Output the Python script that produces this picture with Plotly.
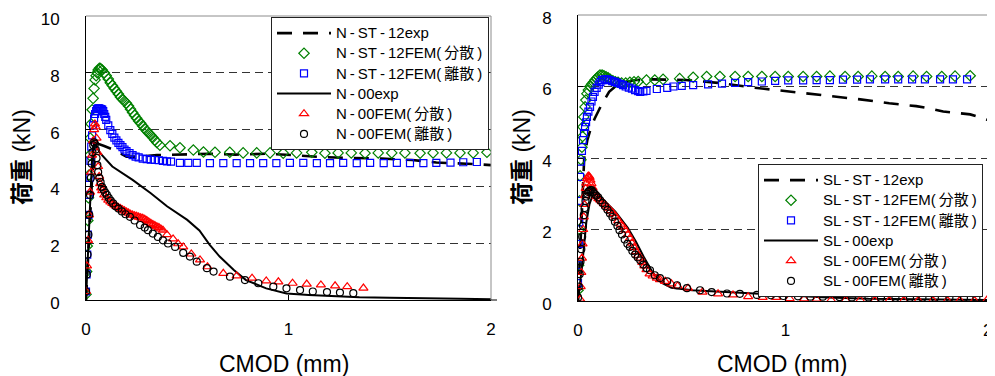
import plotly.graph_objects as go

# ---------------- Left chart (N series) ----------------
nst_exp_x = [0, 0.01, 0.02, 0.03, 0.045, 0.06, 0.09, 0.14, 0.2, 0.26, 0.35, 0.47, 0.61, 0.74, 0.89, 1.02, 1.17, 1.32, 1.46, 1.61, 1.73, 1.88, 2.0]
nst_exp_y = [0, 1.5, 3.0, 4.3, 5.3, 5.5, 5.42, 5.28, 5.05, 5.05, 5.1, 5.13, 5.15, 5.12, 5.15, 5.1, 5.03, 5.0, 4.98, 4.93, 4.84, 4.8, 4.75]

nst_femd_x = [0, 0.003, 0.006, 0.009, 0.012, 0.015, 0.018, 0.021, 0.025, 0.03, 0.035, 0.04, 0.045, 0.05, 0.055, 0.06, 0.066, 0.072,
              0.08, 0.09, 0.1, 0.11, 0.12, 0.13, 0.14, 0.15, 0.16, 0.17, 0.18, 0.19, 0.2, 0.21, 0.22, 0.23, 0.24, 0.25, 0.26, 0.27,
              0.28, 0.29, 0.3, 0.31, 0.32, 0.33, 0.34, 0.35, 0.365, 0.415, 0.464, 0.53, 0.58, 0.637, 0.71, 0.776, 0.843, 0.909,
              0.974, 1.04, 1.115, 1.18, 1.245, 1.31, 1.378, 1.443, 1.51, 1.575, 1.65, 1.714, 1.78, 1.847, 1.912, 1.98]
nst_femd_y = [0.2, 1.0, 1.9, 2.8, 3.6, 4.4, 5.1, 5.7, 6.2, 6.7, 7.1, 7.45, 7.75, 7.9, 8.0, 8.1, 8.16, 8.15,
              8.1, 8.0, 7.9, 7.78, 7.65, 7.55, 7.45, 7.35, 7.25, 7.15, 7.07, 7.0, 6.93, 6.83, 6.72, 6.6, 6.5, 6.4, 6.3, 6.22,
              6.13, 6.03, 5.95, 5.87, 5.8, 5.72, 5.63, 5.55, 5.45, 5.43, 5.36, 5.28, 5.21, 5.2, 5.2, 5.18, 5.18, 5.18,
              5.17, 5.18, 5.2, 5.17, 5.18, 5.18, 5.17, 5.18, 5.18, 5.18, 5.17, 5.18, 5.18, 5.18, 5.18, 5.2]

nst_fems_x = [0, 0.003, 0.006, 0.009, 0.012, 0.015, 0.018, 0.022, 0.026, 0.03, 0.035, 0.04, 0.045, 0.05, 0.055, 0.06, 0.065, 0.07,
              0.075, 0.08, 0.085, 0.09, 0.095, 0.1, 0.11, 0.12, 0.13, 0.14, 0.15, 0.16, 0.17, 0.18, 0.19, 0.2, 0.215, 0.23, 0.245,
              0.26, 0.28, 0.3, 0.32, 0.34, 0.36, 0.38, 0.4, 0.42, 0.464, 0.505, 0.547, 0.612, 0.678, 0.744, 0.81, 0.875, 0.94,
              1.007, 1.073, 1.14, 1.205, 1.27, 1.337, 1.403, 1.47, 1.535, 1.6, 1.666, 1.73, 1.8, 1.863, 1.93]
nst_fems_y = [0.3, 0.9, 1.6, 2.3, 3.0, 3.7, 4.3, 4.9, 5.4, 5.8, 6.15, 6.4, 6.55, 6.65, 6.72, 6.75, 6.75, 6.73,
              6.72, 6.7, 6.65, 6.55, 6.45, 6.34, 6.15, 5.98, 5.85, 5.72, 5.62, 5.53, 5.45, 5.38, 5.3, 5.24, 5.17, 5.1, 5.05,
              5.02, 4.98, 4.96, 4.94, 4.93, 4.92, 4.9, 4.88, 4.87, 4.83, 4.83, 4.83, 4.82, 4.82, 4.82, 4.82, 4.82, 4.82,
              4.83, 4.83, 4.82, 4.82, 4.83, 4.82, 4.83, 4.82, 4.83, 4.82, 4.82, 4.83, 4.84, 4.85, 4.86]

n00_exp_x = [0, 0.01, 0.02, 0.03, 0.04, 0.07, 0.13, 0.23, 0.32, 0.4, 0.5, 0.56, 0.61, 0.66, 0.73, 0.79, 0.89, 0.99, 1.1, 1.22, 1.35, 1.5, 1.68, 1.85, 2.0]
n00_exp_y = [0, 1.8, 3.6, 5.0, 5.55, 5.17, 4.7, 4.23, 3.76, 3.3, 2.82, 2.45, 1.95, 1.53, 1.06, 0.7, 0.41, 0.23, 0.18, 0.14, 0.1, 0.08, 0.05, 0.04, 0.03]

n00_femd_x = [0, 0.005, 0.01, 0.015, 0.02, 0.025, 0.03, 0.035, 0.04, 0.044, 0.048, 0.052, 0.056, 0.06, 0.065, 0.07, 0.075, 0.08,
              0.09, 0.1, 0.11, 0.12, 0.13, 0.14, 0.15, 0.16, 0.17, 0.18, 0.19, 0.2, 0.21, 0.22, 0.23, 0.24, 0.25, 0.26, 0.27,
              0.28, 0.29, 0.3, 0.31, 0.32, 0.33, 0.34, 0.35, 0.36, 0.37, 0.38, 0.4, 0.43, 0.455, 0.48, 0.52, 0.563, 0.6, 0.678,
              0.744, 0.82, 0.89, 0.95, 1.02, 1.09, 1.16, 1.23, 1.29, 1.37]
n00_femd_y = [0.3, 1.2, 2.1, 3.0, 3.8, 4.5, 5.1, 5.6, 6.0, 6.2, 6.1, 5.7, 5.2, 4.7, 4.35, 4.1, 3.95, 3.85,
              3.7, 3.6, 3.52, 3.45, 3.4, 3.35, 3.3, 3.26, 3.22, 3.18, 3.14, 3.1, 3.06, 3.02, 2.99, 2.97, 2.95, 2.92, 2.9,
              2.88, 2.84, 2.8, 2.75, 2.7, 2.66, 2.62, 2.58, 2.55, 2.5, 2.46, 2.3, 2.15, 1.98, 1.87, 1.62, 1.41, 1.17, 0.94,
              0.85, 0.77, 0.67, 0.64, 0.59, 0.56, 0.53, 0.5, 0.47, 0.42]

n00_fems_x = [0, 0.004, 0.008, 0.012, 0.016, 0.02, 0.024, 0.028, 0.032, 0.036, 0.04, 0.044, 0.048, 0.052, 0.056, 0.06, 0.066,
              0.072, 0.079, 0.087, 0.095, 0.103, 0.112, 0.122, 0.134, 0.146, 0.16, 0.177, 0.195, 0.217, 0.24, 0.267, 0.29,
              0.306, 0.33, 0.355, 0.38, 0.405, 0.44, 0.48, 0.513, 0.547, 0.597, 0.63, 0.711, 0.785, 0.851, 0.925, 0.99,
              1.057, 1.12, 1.19, 1.254, 1.32]
n00_fems_y = [0.3, 0.9, 1.6, 2.3, 3.0, 3.7, 4.3, 4.8, 5.2, 5.45, 5.55, 5.5, 5.3, 5.0, 4.75, 4.5, 4.3,
              4.15, 3.98, 3.88, 3.78, 3.7, 3.6, 3.5, 3.4, 3.3, 3.22, 3.12, 3.02, 2.93, 2.8, 2.64, 2.55,
              2.46, 2.34, 2.22, 2.1, 1.99, 1.87, 1.66, 1.53, 1.35, 1.12, 1.0, 0.82, 0.7, 0.59, 0.47, 0.41,
              0.35, 0.3, 0.28, 0.26, 0.24]

# ---------------- Right chart (SL series) ----------------
slst_exp_x = [0, 0.01, 0.02, 0.03, 0.045, 0.06, 0.08, 0.11, 0.15, 0.2, 0.28, 0.36, 0.52, 0.68, 0.83, 0.96, 1.085, 1.23, 1.36, 1.5, 1.63, 1.7, 1.76, 1.89, 1.95, 2.0]
slst_exp_y = [0, 1.5, 3.0, 4.0, 4.5, 4.8, 5.1, 5.45, 5.85, 6.1, 6.18, 6.2, 6.18, 6.1, 5.98, 5.9, 5.83, 5.72, 5.64, 5.53, 5.45, 5.38, 5.3, 5.22, 5.12, 5.02]

slst_femd_x = [0, 0.003, 0.006, 0.008, 0.01, 0.014, 0.019, 0.022, 0.024, 0.028, 0.034, 0.038, 0.043, 0.05, 0.058, 0.066, 0.074,
               0.082, 0.09, 0.098, 0.106, 0.116, 0.125, 0.135, 0.145, 0.155, 0.168, 0.18, 0.193, 0.21, 0.23, 0.25, 0.27, 0.29,
               0.33, 0.37, 0.41, 0.49, 0.555, 0.62, 0.684, 0.757, 0.82, 0.886, 0.95, 1.013, 1.085, 1.15, 1.214, 1.287, 1.35,
               1.416, 1.48, 1.543, 1.615, 1.68, 1.753, 1.817, 1.89]
slst_femd_y = [0.3, 1.0, 2.0, 2.8, 3.5, 3.95, 4.3, 4.6, 4.87, 5.15, 5.43, 5.62, 5.8, 5.9, 6.0, 6.06, 6.12,
               6.18, 6.23, 6.28, 6.32, 6.32, 6.3, 6.27, 6.24, 6.2, 6.16, 6.13, 6.12, 6.1, 6.1, 6.12, 6.13, 6.14,
               6.18, 6.18, 6.2, 6.22, 6.26, 6.28, 6.28, 6.28, 6.28, 6.28, 6.28, 6.28, 6.28, 6.28, 6.29, 6.28, 6.28,
               6.29, 6.28, 6.28, 6.29, 6.28, 6.28, 6.29, 6.3]

slst_fems_x = [0, 0.002, 0.004, 0.006, 0.008, 0.01, 0.014, 0.019, 0.024, 0.029, 0.034, 0.039, 0.043, 0.05, 0.058, 0.065, 0.072,
               0.08, 0.09, 0.1, 0.108, 0.116, 0.128, 0.14, 0.152, 0.165, 0.178, 0.19, 0.205, 0.217, 0.23, 0.245, 0.26, 0.275,
               0.29, 0.3, 0.315, 0.33, 0.38, 0.43, 0.46, 0.5, 0.555, 0.627, 0.694, 0.757, 0.82, 0.886, 0.95, 1.013, 1.085,
               1.15, 1.214, 1.277, 1.345, 1.407, 1.48, 1.543, 1.61, 1.672, 1.745, 1.807, 1.875]
slst_fems_y = [0.5, 1.0, 1.6, 2.2, 2.8, 3.47, 3.9, 4.2, 4.5, 4.7, 4.87, 5.0, 5.15, 5.3, 5.43, 5.58, 5.71,
               5.85, 5.96, 6.05, 6.12, 6.18, 6.2, 6.2, 6.18, 6.15, 6.13, 6.1, 6.07, 6.04, 6.0, 5.97, 5.94, 5.9,
               5.87, 5.85, 5.86, 5.88, 5.93, 5.96, 6.0, 6.02, 6.04, 6.06, 6.08, 6.1, 6.12, 6.14, 6.16, 6.17, 6.17,
               6.18, 6.18, 6.19, 6.19, 6.2, 6.2, 6.2, 6.2, 6.2, 6.2, 6.2, 6.2]

sl00_exp_x = [0, 0.02, 0.04, 0.055, 0.07, 0.09, 0.12, 0.18, 0.24, 0.28, 0.32, 0.36, 0.4, 0.45, 0.55, 0.7, 0.85, 1.0, 1.2, 1.4, 1.7, 2.0]
sl00_exp_y = [0, 1.0, 2.2, 2.7, 2.95, 3.0, 2.85, 2.5, 2.05, 1.65, 1.2, 0.8, 0.52, 0.37, 0.3, 0.25, 0.2, 0.15, 0.1, 0.06, 0.04, 0.03]

sl00_femd_x = [0.01, 0.013, 0.016, 0.019, 0.022, 0.025, 0.028, 0.031, 0.034, 0.037, 0.04, 0.044, 0.048, 0.052, 0.056, 0.06,
               0.065, 0.07, 0.076, 0.082, 0.09, 0.098, 0.106, 0.115, 0.125, 0.135, 0.145, 0.157, 0.17, 0.182, 0.194, 0.206,
               0.217, 0.228, 0.24, 0.25, 0.26, 0.27, 0.28, 0.29, 0.3, 0.31, 0.32, 0.33, 0.345, 0.36, 0.38, 0.395, 0.42, 0.45,
               0.48, 0.53, 0.6, 0.675, 0.747, 0.82, 0.89, 0.955, 1.02, 1.09, 1.15, 1.22, 1.29, 1.36, 1.43, 1.5, 1.57, 1.64,
               1.71, 1.78, 1.84, 1.91, 1.97]
sl00_femd_y = [0.05, 0.4, 0.8, 1.2, 1.6, 2.0, 2.35, 2.7, 2.95, 3.15, 3.3, 3.42, 3.48, 3.5, 3.46, 3.38,
               3.28, 3.17, 3.08, 3.0, 2.92, 2.86, 2.83, 2.78, 2.72, 2.66, 2.6, 2.53, 2.45, 2.36, 2.25, 2.15,
               2.08, 1.98, 1.86, 1.75, 1.62, 1.5, 1.38, 1.28, 1.2, 1.08, 0.98, 0.88, 0.76, 0.7, 0.64, 0.6, 0.55, 0.48,
               0.42, 0.36, 0.25, 0.2, 0.17, 0.12, 0.1, 0.1, 0.07, 0.06, 0.05, 0.03, 0.03, 0.03, 0.02, 0.02, 0.02, 0.02,
               0.02, 0.02, 0.02, 0.02, 0.02]

sl00_fems_x = [0, 0.004, 0.008, 0.012, 0.016, 0.02, 0.024, 0.028, 0.032, 0.036, 0.04, 0.045, 0.05, 0.055, 0.06, 0.065, 0.072,
               0.08, 0.088, 0.097, 0.106, 0.118, 0.13, 0.142, 0.154, 0.166, 0.178, 0.19, 0.2, 0.212, 0.225, 0.238, 0.25,
               0.262, 0.275, 0.288, 0.3, 0.315, 0.33, 0.347, 0.37, 0.395, 0.43, 0.477, 0.525, 0.588, 0.644, 0.718, 0.78,
               0.862, 0.93, 0.99, 1.06, 1.12, 1.18, 1.26, 1.32, 1.4, 1.46, 1.53, 1.6, 1.66, 1.72, 1.79, 1.86, 1.92]
sl00_fems_y = [0.1, 0.4, 0.75, 1.1, 1.45, 1.8, 2.1, 2.4, 2.6, 2.8, 2.92, 3.0, 3.05, 3.08, 3.1, 3.1, 3.05,
               3.0, 2.95, 2.9, 2.82, 2.74, 2.65, 2.55, 2.45, 2.35, 2.22, 2.1, 1.98, 1.86, 1.72, 1.6, 1.51,
               1.4, 1.3, 1.22, 1.14, 1.02, 0.92, 0.86, 0.72, 0.64, 0.55, 0.44, 0.36, 0.3, 0.25, 0.21, 0.2,
               0.17, 0.16, 0.14, 0.13, 0.12, 0.12, 0.11, 0.1, 0.1, 0.09, 0.09, 0.09, 0.09, 0.09, 0.09, 0.09, 0.09]

TS = "\u2009"  # thin space, mimics the wide letter spacing around hyphens
left_labels = [f"N{TS}-{TS}ST{TS}-{TS}12exp", f"N{TS}-{TS}ST{TS}-{TS}12FEM({TS}分散{TS})", f"N{TS}-{TS}ST{TS}-{TS}12FEM({TS}離散{TS})",
               f"N{TS}-{TS}00exp", f"N{TS}-{TS}00FEM({TS}分散{TS})", f"N{TS}-{TS}00FEM({TS}離散{TS})"]
right_labels = [f"SL{TS}-{TS}ST{TS}-{TS}12exp", f"SL{TS}-{TS}ST{TS}-{TS}12FEM({TS}分散{TS})", f"SL{TS}-{TS}ST{TS}-{TS}12FEM({TS}離散{TS})",
                f"SL{TS}-{TS}00exp", f"SL{TS}-{TS}00FEM({TS}分散{TS})", f"SL{TS}-{TS}00FEM({TS}離散{TS})"]

y_ticks_left = [0, 2, 4, 6, 8, 10]
y_ticks_right = [0, 2, 4, 6, 8]
x_ticks = [0, 1, 2]
x_ticktext_right = ["0", "1", ""]   # the "2" is placed as a right-aligned label (it sits at the figure edge)

FONT = "Liberation Sans, Arial, Noto Sans CJK JP, sans-serif"
GREEN, BLUE, RED, BLACK = "#008000", "#0000FF", "#FF0000", "#000000"


def lab(t):
    # legend text drawn at 15px while the legend rows keep a compact pitch
    return f"<span style='font-size:15px'>{t}</span>"


fig = go.Figure()


def add_set(xs_ys, names, xa, ya, legend):
    (ex, ey), (gx, gy), (bx, by), (sx, sy), (rx, ry), (cx, cy) = xs_ys
    fig.add_trace(go.Scatter(x=ex, y=ey, mode="lines", name=lab(names[0]), xaxis=xa, yaxis=ya, legend=legend,
                             line=dict(color=BLACK, width=2.6, dash="15px,11px")))
    fig.add_trace(go.Scatter(x=gx, y=gy, mode="markers", name=lab(names[1]), xaxis=xa, yaxis=ya, legend=legend,
                             marker=dict(symbol="diamond-open", size=8, color=GREEN, line=dict(width=1.2))))
    fig.add_trace(go.Scatter(x=bx, y=by, mode="markers", name=lab(names[2]), xaxis=xa, yaxis=ya, legend=legend,
                             marker=dict(symbol="square-open", size=7, color=BLUE, line=dict(width=1.2))))
    fig.add_trace(go.Scatter(x=sx, y=sy, mode="lines", name=lab(names[3]), xaxis=xa, yaxis=ya, legend=legend,
                             line=dict(color=BLACK, width=2)))
    fig.add_trace(go.Scatter(x=rx, y=ry, mode="markers", name=lab(names[4]), xaxis=xa, yaxis=ya, legend=legend,
                             marker=dict(symbol="triangle-up-open", size=8, color=RED, line=dict(width=1.2))))
    fig.add_trace(go.Scatter(x=cx, y=cy, mode="markers", name=lab(names[5]), xaxis=xa, yaxis=ya, legend=legend,
                             marker=dict(symbol="circle-open", size=7, color=BLACK, line=dict(width=1.2))))


add_set([(nst_exp_x, nst_exp_y), (nst_femd_x, nst_femd_y), (nst_fems_x, nst_fems_y),
         (n00_exp_x, n00_exp_y), (n00_femd_x, n00_femd_y), (n00_fems_x, n00_fems_y)],
        left_labels, "x", "y", "legend")
add_set([(slst_exp_x, slst_exp_y), (slst_femd_x, slst_femd_y), (slst_fems_x, slst_fems_y),
         (sl00_exp_x, sl00_exp_y), (sl00_femd_x, sl00_femd_y), (sl00_fems_x, sl00_fems_y)],
        right_labels, "x2", "y2", "legend2")

W, H = 995, 376
OFF = 8  # the page body margin shifts the figure by 8px; positions below are window pixels


def px(v):
    return (v - OFF) / W


def py(v):
    return 1 - (v - OFF) / H


L_x0, L_x1, L_y0, L_y1 = 86, 491, 16, 300
R_x0, R_x1, R_y0, R_y1 = 578, 993, 15, 301

axis_common = dict(ticks="inside", ticklen=5, tickcolor="black", showline=True, linecolor="black", linewidth=1,
                   zeroline=False, ticklabeloverflow="allow", tickfont=dict(family=FONT, size=17, color="black"))
grid = dict(showgrid=True, gridcolor="#333333", gridwidth=1, griddash="8px,5px")
legend_common = dict(xanchor="left", yanchor="top", bgcolor="white", bordercolor="#222222", borderwidth=1,
                     font=dict(family=FONT, size=13.2, color="black"), itemwidth=54, tracegroupgap=0,
                     traceorder="normal")

fig.update_layout(
    width=W, height=H, autosize=False,
    margin=dict(l=0, r=0, t=0, b=0, autoexpand=False),
    paper_bgcolor="white", plot_bgcolor="white",
    font=dict(family=FONT, color="black"),
    xaxis=dict(domain=[px(L_x0), px(L_x1)], range=[0, 2], tickvals=x_ticks, showgrid=False,
               ticklabelstandoff=14, anchor="y", **axis_common),
    yaxis=dict(domain=[py(L_y1), py(L_y0)], range=[0, 10], tickvals=y_ticks_left,
               ticklabelstandoff=22, ticklabelshift=3, anchor="x", **grid, **axis_common),
    xaxis2=dict(domain=[px(R_x0), px(R_x1)], range=[0, 2], tickvals=x_ticks, ticktext=x_ticktext_right,
                showgrid=False, ticklabelstandoff=14, anchor="y2", **axis_common),
    yaxis2=dict(domain=[py(R_y1), py(R_y0)], range=[0, 8], tickvals=y_ticks_right,
                ticklabelstandoff=22, ticklabelshift=3, anchor="x2", **grid, **axis_common),
    legend=dict(x=px(271), y=py(17), **legend_common),
    legend2=dict(x=px(758), y=py(164), **legend_common),
    showlegend=True,
)

# gray top/right frame lines
for xa, ya in (("x", "y"), ("x2", "y2")):
    fig.add_shape(type="line", xref=f"{xa} domain", yref=f"{ya} domain", x0=0, x1=1, y0=1, y1=1,
                  line=dict(color="#8c8c8c", width=1), layer="above")
    fig.add_shape(type="line", xref=f"{xa} domain", yref=f"{ya} domain", x0=1, x1=1, y0=0, y1=1,
                  line=dict(color="#8c8c8c", width=1), layer="above")
# small overhang of the left x axis line past the frame
fig.add_shape(type="line", xref="paper", yref="paper", x0=px(L_x1), x1=px(497), y0=py(L_y1), y1=py(L_y1),
              line=dict(color="black", width=1), layer="above")

# right-edge "2" tick label of the right chart
fig.add_annotation(text=str(x_ticks[-1]), xref="paper", yref="paper", x=px(994), y=py(330),
                   xanchor="right", yanchor="middle", showarrow=False,
                   font=dict(family=FONT, size=17, color="black"))

# axis titles
title_font = dict(family=FONT, size=23, color="black")
for cx in (284, 782):
    fig.add_annotation(text="CMOD (mm)", xref="paper", yref="paper", x=px(cx), y=py(364),
                       xanchor="center", yanchor="middle", showarrow=False, font=title_font)
for cx in (22, 522):
    fig.add_annotation(text="<b>荷重</b> (kN)", xref="paper", yref="paper", x=px(cx), y=py(157),
                       xanchor="center", yanchor="middle", showarrow=False, textangle=-90, font=title_font)

fig.write_html("out.html")
